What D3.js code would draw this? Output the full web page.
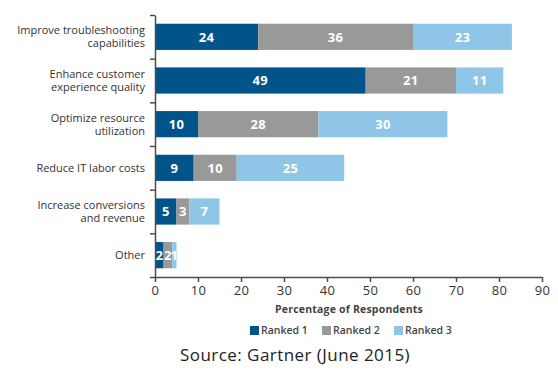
<!DOCTYPE html>
<html>
<head>
<meta charset="utf-8">
<script src="https://cdn.jsdelivr.net/npm/d3@7"></script>
<style>
  body { margin: 0; background: #fff; }
  svg { font-family: "Open Sans", sans-serif; }
</style>
</head>
<body>
<svg class="main" width="558" height="373"></svg>
<script>
// data
var categories = ['Improve troubleshooting capabilities', 'Enhance customer experience quality',
  'Optimize resource utilization', 'Reduce IT labor costs', 'Increase conversions and revenue', 'Other']
var labelLines = [['Improve troubleshooting', 'capabilities'], ['Enhance customer', 'experience quality'],
  ['Optimize resource', 'utilization'], ['Reduce IT labor costs'], ['Increase conversions', 'and revenue'], ['Other']]
var ranked1 = [24, 49, 10, 9, 5, 2]
var ranked2 = [36, 21, 28, 10, 3, 2]
var ranked3 = [23, 11, 30, 25, 7, 1]
var seriesNames = ['Ranked 1', 'Ranked 2', 'Ranked 3']
var xTicks = [0, 10, 20, 30, 40, 50, 60, 70, 80, 90]

var cols = ['r1', 'r2', 'r3']
var data = categories.map(function(c, i) {
  return {cat: c, r1: ranked1[i], r2: ranked2[i], r3: ranked3[i]}
})
var dataset = d3.stack().keys(cols)(data)

var colors = ['#00548a', '#999999', '#8fc5e7']
var color = d3.scaleOrdinal().domain(cols).range(colors)

var svg = d3.select('svg.main')

// scales
var xScale = d3.scaleLinear().domain([0, 90]).range([155, 542])
var yScale = d3.scaleBand().domain(categories).range([15, 277]).paddingInner(0.4).paddingOuter(0.2)
var yTick = d3.scaleLinear().domain([0, categories.length]).range([15, 277])

// bars
var groups = svg.selectAll('g.series')
  .data(dataset).enter()
  .append('g')
  .attr('class', 'series')
  .attr('fill', d => color(d.key))

groups.selectAll('rect')
  .data(d => d)
  .join('rect')
  .attr('x', d => xScale(d[0]))
  .attr('y', d => yScale(d.data.cat))
  .attr('width', d => xScale(d[1]) - xScale(d[0]))
  .attr('height', yScale.bandwidth())

// value labels
groups.selectAll('text')
  .data(d => d)
  .join('text')
  .attr('x', d => (xScale(d[0]) + xScale(d[1])) / 2)
  .attr('y', d => yScale(d.data.cat) + yScale.bandwidth() / 2)
  .attr('dy', '0.36em')
  .attr('text-anchor', 'middle')
  .attr('fill', '#fff')
  .attr('font-weight', 'bold')
  .attr('font-size', 13)
  .attr('letter-spacing', 0.3)
  .text(d => d[1] - d[0])

// y axis (ticks at band boundaries)
var yAxis = svg.append('g')
  .attr('transform', 'translate(155,0)')
  .call(d3.axisLeft(yTick).tickValues(d3.range(categories.length + 1)).tickFormat('').tickSize(5).tickSizeOuter(0))
yAxis.selectAll('path, line').attr('stroke', '#4d4d4d').attr('stroke-width', 1.5)

// category labels
var catText = svg.append('g').selectAll('text')
  .data(categories).enter()
  .append('text')
  .attr('text-anchor', 'end')
  .attr('fill', '#333')
  .attr('font-size', 11)
  .attr('transform', (d, i) => `translate(145, ${yScale(d) + yScale.bandwidth() / 2 - (labelLines[i].length - 1) * 6.5})`)
catText.selectAll('tspan')
  .data((d, i) => labelLines[i])
  .join('tspan')
  .attr('x', 0)
  .attr('y', (d, i) => i * 13)
  .attr('dy', '0.35em')
  .text(d => d)

// x axis
var xAxis = svg.append('g')
  .attr('transform', 'translate(0,277)')
  .call(d3.axisBottom(xScale).tickValues(xTicks).tickSize(5).tickSizeOuter(0).tickPadding(4))
xAxis.selectAll('path, line').attr('stroke', '#4d4d4d').attr('stroke-width', 1.5)
xAxis.selectAll('text')
  .attr('fill', '#333')
  .attr('font-size', 13)
  .attr('letter-spacing', 0.4)
  .attr('font-family', '"Open Sans", sans-serif')

svg.append('text')
  .attr('x', 349)
  .attr('y', 309)
  .attr('dy', '0.35em')
  .attr('text-anchor', 'middle')
  .attr('fill', '#444')
  .attr('font-weight', 'bold')
  .attr('font-size', 10.5)
  .attr('letter-spacing', 0.2)
  .text('Percentage of Respondents')

// legend
var legendX = [250, 322, 394]
var legend = svg.append('g').selectAll('g')
  .data(seriesNames).enter()
  .append('g')
  .attr('transform', (d, i) => `translate(${legendX[i]}, 326)`)
legend.append('rect')
  .attr('width', 9)
  .attr('height', 9)
  .attr('fill', (d, i) => colors[i])
legend.append('text')
  .attr('x', 11)
  .attr('y', 4.5)
  .attr('dy', '0.35em')
  .attr('fill', '#444')
  .attr('font-weight', 600)
  .attr('font-size', 10.5)
  .text(d => d)

// source
svg.append('text')
  .attr('x', 180)
  .attr('y', 355)
  .attr('dy', '0.35em')
  .attr('fill', '#222')
  .attr('font-size', 17)
  .attr('letter-spacing', 0.45)
  .text('Source: Gartner (June 2015)')
</script>
</body>
</html>
